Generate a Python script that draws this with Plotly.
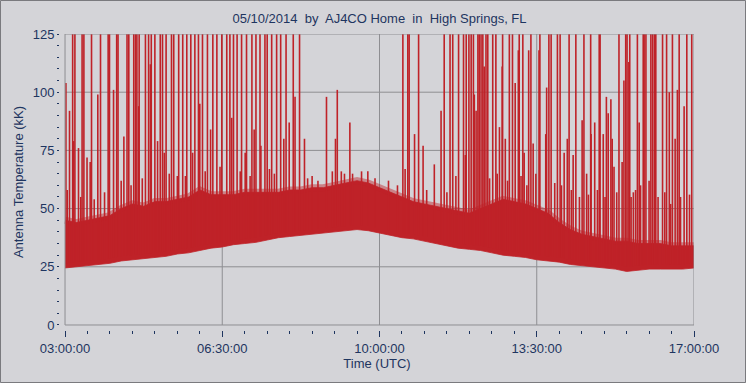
import numpy as np
import pandas as pd
import plotly.graph_objects as go

# ---------------- data ----------------
# dense noise band: time in hours UTC, lower and upper edge (kK)
band_hours = [3.0, 3.25, 3.5, 3.75, 4.0, 4.25, 4.5, 4.75, 5.0, 5.25, 5.5, 5.75,
              6.0, 6.25, 6.5, 6.75, 7.0, 7.25, 7.5, 7.75, 8.0, 8.25, 8.5, 8.75,
              9.0, 9.25, 9.5, 9.75, 10.0, 10.25, 10.5, 10.75, 11.0, 11.25, 11.5,
              11.75, 12.0, 12.25, 12.5, 12.75, 13.0, 13.25, 13.5, 13.75, 14.0,
              14.25, 14.5, 14.75, 15.0, 15.25, 15.5, 15.75, 16.0, 16.25, 16.5,
              16.75, 17.0]
band_low = [24.5, 25, 25.5, 26, 26.5, 27.5, 28, 28.5, 29, 29.5, 30.5, 31,
            32, 33, 33.5, 34.5, 35, 35.5, 36.5, 37.5, 38, 38.5, 39, 39.5,
            40, 40.5, 41, 40.5, 39.5, 38.5, 37.5, 37, 36, 35, 34,
            33, 32.5, 32, 31, 30, 29.5, 29, 28, 27.5, 27,
            26, 25.5, 25, 24.5, 24, 23, 23.5, 24, 24, 24,
            24, 24.5]
band_high = [45, 44, 45, 46, 47, 50, 52, 51, 53, 53, 54, 55,
             58, 56, 56, 56, 57, 57, 57, 57, 58, 58, 59, 59,
             60, 61, 62, 61, 59, 57, 55, 53, 52, 51, 50,
             49, 48, 50, 52, 54, 53, 52, 50, 48, 44,
             41, 39, 38, 37, 36, 36, 35, 35, 35, 34,
             34, 34]

# spikes that run off the top of the chart (hours UTC)
full_spike_hours = [3.17, 3.22, 3.38, 3.42, 3.59, 3.79, 3.96, 3.99, 4.15, 4.18, 4.38,
                    4.42, 4.53, 4.57, 4.60, 4.65, 4.79, 4.86, 4.92, 5.00, 5.12, 5.17,
                    5.25, 5.37, 5.42, 5.53, 5.62, 5.71, 5.80, 5.89, 5.97, 6.06, 6.17,
                    6.29, 6.38, 6.49, 6.60, 6.67, 6.75, 6.83, 6.93, 7.04, 7.16, 7.25,
                    7.34, 7.45, 7.50, 7.60, 7.71, 7.80, 7.92, 8.08, 8.22, 10.52, 10.63,
                    10.66, 10.87, 11.44, 11.57, 11.63, 11.76, 11.87, 11.93, 11.99, 12.04,
                    12.09, 12.19, 12.22, 12.26, 12.30, 12.37, 12.41, 12.52, 12.59, 12.74,
                    12.89, 12.96, 13.11, 13.19, 13.37, 13.57, 13.77, 13.82, 13.96, 14.02,
                    14.22, 14.37, 14.55, 14.70, 14.89, 14.91, 15.33, 15.48, 15.51, 15.57,
                    15.74, 15.87, 15.89, 15.93, 16.04, 16.08, 16.12, 16.15, 16.30, 16.39,
                    16.52, 16.67, 16.84, 16.95]
full_spike_peak = 125

# spikes with a visible peak (hours UTC, kK)
spike_hours = [3.02, 3.10, 3.19, 3.30, 3.49, 3.56, 3.73, 4.08, 4.31, 4.64, 4.90, 5.06,
               5.21, 5.50, 5.84, 6.00, 6.24, 6.71, 7.01, 7.21, 7.36, 7.87, 7.99, 8.12,
               8.33, 8.63, 8.82, 9.02, 9.06, 9.15, 9.22, 9.34, 9.74, 10.57, 10.78,
               10.97, 11.22, 11.37, 11.70, 11.91, 12.11, 12.15, 12.33, 12.67, 12.73,
               12.80, 13.02, 13.09, 13.22, 13.32, 13.42, 13.48, 13.55, 13.70, 13.72,
               13.90, 14.05, 14.11, 14.18, 14.27, 14.31, 14.45, 14.51, 14.61, 14.65,
               14.71, 14.79, 14.85, 14.98, 15.02, 15.05, 15.09, 15.15, 15.18, 15.22,
               15.28, 15.40, 15.44, 15.55, 15.60, 15.65, 15.70, 15.78, 15.81, 16.00,
               16.20, 16.35, 16.45, 16.48, 16.58, 16.63, 16.70, 16.78, 16.90,
               3.05, 3.35, 3.65, 3.88, 4.25, 4.47, 4.72, 5.32, 5.68, 6.12, 6.45,
               6.90, 7.12, 7.55, 7.66, 8.40, 8.50, 8.95, 9.40, 9.60, 9.90, 10.20,
               10.40, 11.05, 11.50, 12.45, 12.62, 12.85, 13.15, 13.28]
spike_peak = [104, 92, 79, 76, 72, 70, 99, 101, 81, 94, 112, 79,
              74, 64, 74, 95, 84, 89, 74, 84, 77, 80, 87, 98,
              80, 62, 98, 80, 101, 66, 65, 87, 66, 67, 82,
              77, 69, 92, 64, 73, 99, 92, 111, 85, 111,
              80, 104, 118, 74, 118, 78, 65, 118, 82, 102,
              61, 60, 74, 80, 58, 73, 55, 88, 65, 56,
              82, 87, 58, 82, 55, 98, 91, 97, 80, 68,
              57, 70, 105, 113, 55, 57, 58, 87, 60, 62,
              55, 57, 100, 52, 80, 101, 55, 94, 56,
              58, 55, 54, 57, 62, 60, 63, 65, 64, 66, 68,
              66, 64, 67, 65, 63, 64, 66, 65, 66, 63, 62,
              60, 58, 57, 63, 65, 62, 64, 60]

x_tick_labels = ["03:00:00", "06:30:00", "10:00:00", "13:30:00", "17:00:00"]
x_tick_hours = [3.0, 6.5, 10.0, 13.5, 17.0]
y_tick_values = [0, 25, 50, 75, 100, 125]

# ---------------- styling ----------------
RED = "#BF2228"
BG = "#D4D4D8"
GRID = "#8E8E92"
TXT = "#1E3560"
FONT = "Liberation Sans"
FS = 13
day = pd.Timestamp("2014-05-10")


def to_time(hours):
    return [day + pd.Timedelta(hours=h) for h in hours]


bx = to_time(band_hours)

# spike segments: from inside the noise band up to the peak
sx, sy = [], []
for h in full_spike_hours:
    base = float(np.interp(h, band_hours, band_low)) + 2
    t = day + pd.Timedelta(hours=h)
    sx += [t, t, None]
    sy += [base, full_spike_peak, None]
for h, p in zip(spike_hours, spike_peak):
    base = float(np.interp(h, band_hours, band_low)) + 2
    t = day + pd.Timedelta(hours=h)
    sx += [t, t, None]
    sy += [base, p, None]

fig = go.Figure()
fig.add_trace(go.Scatter(x=bx, y=band_low, mode="lines",
                         line=dict(color=RED, width=0.8), hoverinfo="skip",
                         showlegend=False))
fig.add_trace(go.Scatter(x=bx, y=band_high, mode="lines", fill="tonexty",
                         fillcolor=RED, line=dict(color=RED, width=0.8),
                         hoverinfo="skip", showlegend=False))
# soft, ragged-looking upper fringe of the noise band
fig.add_trace(go.Scatter(x=bx, y=band_high, mode="lines", opacity=0.45,
                         line=dict(color=RED, width=7), hoverinfo="skip",
                         showlegend=False))
fig.add_trace(go.Scatter(x=sx, y=sy, mode="lines",
                         line=dict(color=RED, width=1.6), hoverinfo="skip",
                         showlegend=False, connectgaps=False))

x0 = day + pd.Timedelta(hours=x_tick_hours[0])
x1 = day + pd.Timedelta(hours=x_tick_hours[-1])
shapes = []
# horizontal grid lines
for v in y_tick_values[1:-1]:
    shapes.append(dict(type="line", xref="x", yref="y", x0=x0, x1=x1, y0=v, y1=v,
                       line=dict(color=GRID, width=1), layer="below"))
# vertical grid lines
for h in x_tick_hours[1:-1]:
    t = day + pd.Timedelta(hours=h)
    shapes.append(dict(type="line", xref="x", yref="y", x0=t, x1=t,
                       y0=y_tick_values[0], y1=y_tick_values[-1],
                       line=dict(color=GRID, width=1), layer="below"))
# frame of the plotting area
shapes.append(dict(type="rect", xref="x", yref="y", x0=x0, x1=x1,
                   y0=y_tick_values[0], y1=y_tick_values[-1],
                   line=dict(color=GRID, width=1), layer="above"))

W, H = 746, 383
ml, mr, mt, mb = 60, 52, 34, 53
pw, ph = W - ml - mr, H - mt - mb
# outer border of the picture
shapes.append(dict(type="rect", xref="paper", yref="paper",
                   x0=-ml / pw + 0.5 / pw, x1=1 + mr / pw - 0.5 / pw,
                   y0=-mb / ph + 0.5 / ph, y1=1 + mt / ph - 0.5 / ph,
                   line=dict(color="#7A7A7E", width=1), layer="above"))

fig.update_layout(
    width=W, height=H,
    margin=dict(l=ml, r=mr, t=mt, b=mb, autoexpand=False),
    paper_bgcolor=BG, plot_bgcolor=BG,
    font=dict(family=FONT, size=FS, color=TXT),
    title=dict(text="05/10/2014  by  AJ4CO Home  in  High Springs, FL",
               x=(65 + 694) / 2 / W, xanchor="center", y=1 - 18 / H,
               yanchor="middle", font=dict(family=FONT, size=FS, color=TXT)),
    shapes=shapes,
    showlegend=False,
)

fig.update_xaxes(
    type="date", automargin=False,
    range=[day + pd.Timedelta(hours=3) - pd.Timedelta(minutes=6.7), x1],
    tickvals=to_time(x_tick_hours), ticktext=x_tick_labels,
    ticks="outside", ticklen=6, tickwidth=1, tickcolor=TXT,
    minor=dict(dtick=1800000, ticks="outside", ticklen=3, tickcolor=TXT,
               showgrid=False),
    showgrid=False, zeroline=False, showline=False,
    title=dict(text="Time (UTC)", standoff=1, font=dict(size=FS, color=TXT)),
    tickfont=dict(size=FS, color=TXT),
)
fig.update_yaxes(
    automargin=False,
    range=[-2.15, 125],
    tickvals=y_tick_values,
    ticks="outside", ticklen=2, tickwidth=1, tickcolor=TXT,
    minor=dict(dtick=5, ticks="outside", ticklen=2, tickcolor=TXT, showgrid=False),
    showgrid=False, zeroline=False, showline=False,
    title=dict(text="Antenna Temperature (kK)", standoff=6,
               font=dict(size=FS, color=TXT)),
    tickfont=dict(size=FS, color=TXT),
)

fig.write_html("out.html",
               config={"displayModeBar": False, "staticPlot": True},
               post_script="document.body.style.margin='0';"
                           "document.body.style.background='" + BG + "';")
